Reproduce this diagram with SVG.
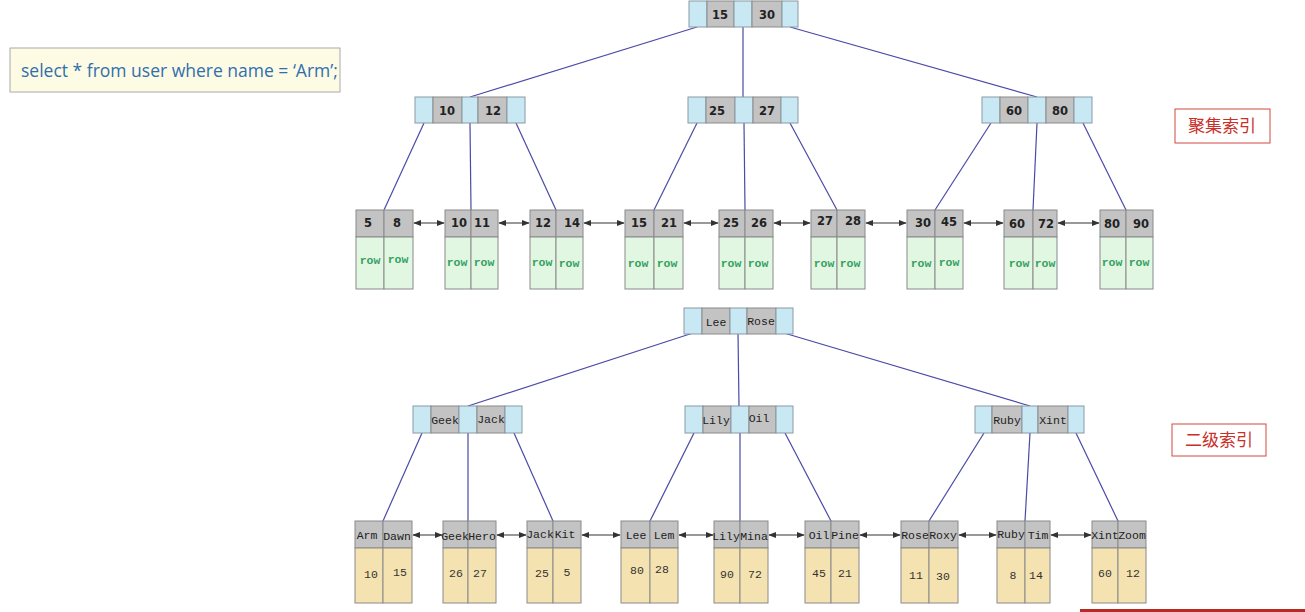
<svg xmlns="http://www.w3.org/2000/svg" width="1305" height="612" viewBox="0 0 1305 612">
<style>
.bl{fill:#c8e8f4;stroke:#8a9aa4;stroke-width:1}
.gr{fill:#c3c3c3;stroke:#8a8a8a;stroke-width:1}
.gn{fill:#e2f7e2;stroke:#8a8a8a;stroke-width:1}
.ye{fill:#f4e2b0;stroke:#8a8a8a;stroke-width:1}
.num{font-family:"DejaVu Sans",sans-serif;font-weight:bold;font-size:11.5px;fill:#222;text-anchor:middle}
.nm{font-family:"Liberation Mono","DejaVu Sans Mono",monospace;font-size:11.5px;fill:#222;text-anchor:middle}
.row{font-family:"Liberation Mono",monospace;font-weight:bold;font-size:11.5px;fill:#35a060;text-anchor:middle}
.val{font-family:"Liberation Mono",monospace;font-size:11.5px;fill:#333;text-anchor:middle}
.ln{stroke:#4a4aa8;stroke-width:1.2;fill:none}
.ar{stroke:#333;stroke-width:1;fill:none;marker-start:url(#ah);marker-end:url(#ah)}
.lab{fill:#fff;stroke:#d0483c;stroke-width:1}
.labt{font-family:"Noto Sans CJK SC",sans-serif;font-size:17px;fill:#c8302a;text-anchor:middle}
</style>
<defs>
<marker id="ah" viewBox="0 0 10 10" refX="9" refY="5" markerWidth="8" markerHeight="8" orient="auto-start-reverse" markerUnits="userSpaceOnUse"><path d="M0,1 L10,5 L0,9 z" fill="#333"/></marker>
</defs>

<g id="query">
<rect x="10" y="48" width="330" height="44" fill="#fdfbe3" stroke="#aaa"/>
<text x="21" y="77" font-family="'Open Sans',sans-serif" font-size="17.5" fill="#2f6fae">select * from user where name = ‘Arm’;</text>
</g>

<g id="connectors">
<line class="ln" x1="697" y1="27" x2="470" y2="97"/>
<line class="ln" x1="743" y1="27" x2="743" y2="97"/>
<line class="ln" x1="790" y1="27" x2="1037" y2="97"/>
<line class="ln" x1="424" y1="123" x2="384" y2="210"/>
<line class="ln" x1="470" y1="123" x2="471" y2="210"/>
<line class="ln" x1="516" y1="123" x2="556" y2="210"/>
<line class="ln" x1="697" y1="123" x2="654" y2="210"/>
<line class="ln" x1="744" y1="123" x2="745" y2="210"/>
<line class="ln" x1="790" y1="123" x2="837" y2="210"/>
<line class="ln" x1="991" y1="123" x2="935" y2="210"/>
<line class="ln" x1="1037" y1="123" x2="1033" y2="210"/>
<line class="ln" x1="1083" y1="123" x2="1126" y2="210"/>
<line class="ar" x1="414" y1="223" x2="444" y2="223"/>
<line class="ar" x1="499" y1="223" x2="529" y2="223"/>
<line class="ar" x1="584" y1="223" x2="624" y2="223"/>
<line class="ar" x1="684" y1="223" x2="718" y2="223"/>
<line class="ar" x1="774" y1="223" x2="810" y2="223"/>
<line class="ar" x1="866" y1="223" x2="906" y2="223"/>
<line class="ar" x1="964" y1="223" x2="1003" y2="223"/>
<line class="ar" x1="1058" y1="223" x2="1099" y2="223"/>

<line class="ln" x1="693" y1="333" x2="468" y2="406"/>
<line class="ln" x1="738" y1="333" x2="739" y2="406"/>
<line class="ln" x1="784" y1="333" x2="1030" y2="406"/>
<line class="ln" x1="422" y1="433" x2="383" y2="521"/>
<line class="ln" x1="468" y1="433" x2="468" y2="521"/>
<line class="ln" x1="514" y1="433" x2="553" y2="521"/>
<line class="ln" x1="694" y1="433" x2="650" y2="521"/>
<line class="ln" x1="740" y1="433" x2="740" y2="521"/>
<line class="ln" x1="785" y1="433" x2="831" y2="521"/>
<line class="ln" x1="984" y1="433" x2="929" y2="521"/>
<line class="ln" x1="1030" y1="433" x2="1025" y2="521"/>
<line class="ln" x1="1076" y1="433" x2="1118" y2="521"/>
<line class="ar" x1="413" y1="535" x2="442" y2="535"/>
<line class="ar" x1="497" y1="535" x2="526" y2="535"/>
<line class="ar" x1="582" y1="535" x2="620" y2="535"/>
<line class="ar" x1="679" y1="535" x2="713" y2="535"/>
<line class="ar" x1="769" y1="535" x2="804" y2="535"/>
<line class="ar" x1="860" y1="535" x2="900" y2="535"/>
<line class="ar" x1="959" y1="535" x2="996" y2="535"/>
<line class="ar" x1="1051" y1="535" x2="1091" y2="535"/>
</g>

<!-- clustered index internal nodes -->
<g id="c-root">
<rect class="bl" x="689" y="1" width="18" height="26"/><rect class="gr" x="707" y="1" width="27" height="26"/><rect class="bl" x="734" y="1" width="18" height="26"/><rect class="gr" x="752" y="1" width="30" height="26"/><rect class="bl" x="782" y="1" width="16" height="26"/>
<text class="num" x="720" y="19">15</text><text class="num" x="767" y="19">30</text>
</g>
<g id="c-n1">
<rect class="bl" x="415" y="97" width="18" height="26"/><rect class="gr" x="433" y="97" width="29" height="26"/><rect class="bl" x="462" y="97" width="16" height="26"/><rect class="gr" x="478" y="97" width="29" height="26"/><rect class="bl" x="507" y="97" width="18" height="26"/>
<text class="num" x="447" y="115">10</text><text class="num" x="493" y="115">12</text>
</g>
<g id="c-n2">
<rect class="bl" x="688" y="97" width="18" height="26"/><rect class="gr" x="706" y="97" width="29" height="26"/><rect class="bl" x="735" y="97" width="18" height="26"/><rect class="gr" x="753" y="97" width="28" height="26"/><rect class="bl" x="781" y="97" width="17" height="26"/>
<text class="num" x="717" y="115">25</text><text class="num" x="767" y="115">27</text>
</g>
<g id="c-n3">
<rect class="bl" x="982" y="97" width="18" height="26"/><rect class="gr" x="1000" y="97" width="28" height="26"/><rect class="bl" x="1028" y="97" width="18" height="26"/><rect class="gr" x="1046" y="97" width="28" height="26"/><rect class="bl" x="1074" y="97" width="18" height="26"/>
<text class="num" x="1014" y="115">60</text><text class="num" x="1060" y="115">80</text>
</g>

<!-- clustered leaves -->
<g id="c-l1"><rect class="gr" x="356" y="210" width="28" height="27"/><rect class="gr" x="384" y="210" width="29" height="27"/><rect class="gn" x="356" y="237" width="28" height="52"/><rect class="gn" x="384" y="237" width="29" height="52"/>
<text class="num" x="368" y="227">5</text><text class="num" x="397" y="227">8</text><text class="row" x="370" y="264">row</text><text class="row" x="398" y="263">row</text></g>
<g id="c-l2"><rect class="gr" x="445" y="210" width="26" height="27"/><rect class="gr" x="471" y="210" width="27" height="27"/><rect class="gn" x="445" y="237" width="26" height="52"/><rect class="gn" x="471" y="237" width="27" height="52"/>
<text class="num" x="459" y="227">10</text><text class="num" x="482" y="227">11</text><text class="row" x="457" y="266">row</text><text class="row" x="484" y="266">row</text></g>
<g id="c-l3"><rect class="gr" x="530" y="210" width="26" height="27"/><rect class="gr" x="556" y="210" width="27" height="27"/><rect class="gn" x="530" y="237" width="26" height="52"/><rect class="gn" x="556" y="237" width="27" height="52"/>
<text class="num" x="543" y="227">12</text><text class="num" x="572" y="227">14</text><text class="row" x="542" y="266">row</text><text class="row" x="569" y="267">row</text></g>
<g id="c-l4"><rect class="gr" x="625" y="210" width="29" height="27"/><rect class="gr" x="654" y="210" width="29" height="27"/><rect class="gn" x="625" y="237" width="29" height="52"/><rect class="gn" x="654" y="237" width="29" height="52"/>
<text class="num" x="639" y="227">15</text><text class="num" x="669" y="227">21</text><text class="row" x="638" y="267">row</text><text class="row" x="667" y="267">row</text></g>
<g id="c-l5"><rect class="gr" x="719" y="210" width="26" height="27"/><rect class="gr" x="745" y="210" width="28" height="27"/><rect class="gn" x="719" y="237" width="26" height="52"/><rect class="gn" x="745" y="237" width="28" height="52"/>
<text class="num" x="731" y="227">25</text><text class="num" x="759" y="227">26</text><text class="row" x="731" y="267">row</text><text class="row" x="758" y="267">row</text></g>
<g id="c-l6"><rect class="gr" x="811" y="210" width="26" height="27"/><rect class="gr" x="837" y="210" width="28" height="27"/><rect class="gn" x="811" y="237" width="26" height="52"/><rect class="gn" x="837" y="237" width="28" height="52"/>
<text class="num" x="825" y="225">27</text><text class="num" x="853" y="225">28</text><text class="row" x="824" y="267">row</text><text class="row" x="850" y="267">row</text></g>
<g id="c-l7"><rect class="gr" x="907" y="210" width="28" height="27"/><rect class="gr" x="935" y="210" width="28" height="27"/><rect class="gn" x="907" y="237" width="28" height="52"/><rect class="gn" x="935" y="237" width="28" height="52"/>
<text class="num" x="923" y="227">30</text><text class="num" x="949" y="226">45</text><text class="row" x="921" y="267">row</text><text class="row" x="949" y="266">row</text></g>
<g id="c-l8"><rect class="gr" x="1004" y="210" width="29" height="27"/><rect class="gr" x="1033" y="210" width="24" height="27"/><rect class="gn" x="1004" y="237" width="29" height="52"/><rect class="gn" x="1033" y="237" width="24" height="52"/>
<text class="num" x="1017" y="228">60</text><text class="num" x="1046" y="228">72</text><text class="row" x="1019" y="267">row</text><text class="row" x="1045" y="267">row</text></g>
<g id="c-l9"><rect class="gr" x="1100" y="210" width="26" height="27"/><rect class="gr" x="1126" y="210" width="27" height="27"/><rect class="gn" x="1100" y="237" width="26" height="52"/><rect class="gn" x="1126" y="237" width="27" height="52"/>
<text class="num" x="1112" y="228">80</text><text class="num" x="1141" y="228">90</text><text class="row" x="1112" y="266">row</text><text class="row" x="1139" y="266">row</text></g>

<g id="label-clustered"><rect class="lab" x="1175" y="109" width="95" height="34"/><text class="labt" x="1222" y="132">聚集索引</text></g>

<!-- secondary index internal nodes -->
<g id="s-root">
<rect class="bl" x="684" y="308" width="18" height="26"/><rect class="gr" x="702" y="308" width="28" height="26"/><rect class="bl" x="730" y="308" width="17" height="26"/><rect class="gr" x="747" y="308" width="29" height="26"/><rect class="bl" x="776" y="308" width="17" height="26"/>
<text class="nm" x="716" y="326">Lee</text><text class="nm" x="761" y="325">Rose</text>
</g>
<g id="s-n1">
<rect class="bl" x="413" y="406" width="18" height="27"/><rect class="gr" x="431" y="406" width="28" height="27"/><rect class="bl" x="459" y="406" width="18" height="27"/><rect class="gr" x="477" y="406" width="28" height="27"/><rect class="bl" x="505" y="406" width="17" height="27"/>
<text class="nm" x="445" y="424">Geek</text><text class="nm" x="491" y="423">Jack</text>
</g>
<g id="s-n2">
<rect class="bl" x="685" y="406" width="18" height="27"/><rect class="gr" x="703" y="406" width="28" height="27"/><rect class="bl" x="731" y="406" width="18" height="27"/><rect class="gr" x="749" y="406" width="27" height="27"/><rect class="bl" x="776" y="406" width="17" height="27"/>
<text class="nm" x="716" y="424">Lily</text><text class="nm" x="759" y="422">Oil</text>
</g>
<g id="s-n3">
<rect class="bl" x="975" y="406" width="17" height="27"/><rect class="gr" x="992" y="406" width="30" height="27"/><rect class="bl" x="1022" y="406" width="16" height="27"/><rect class="gr" x="1038" y="406" width="30" height="27"/><rect class="bl" x="1068" y="406" width="16" height="27"/>
<text class="nm" x="1007" y="424">Ruby</text><text class="nm" x="1053" y="424">Xint</text>
</g>

<!-- secondary leaves -->
<g id="s-l1"><rect class="gr" x="355" y="521" width="28" height="27"/><rect class="gr" x="383" y="521" width="29" height="27"/><rect class="ye" x="355" y="548" width="28" height="55"/><rect class="ye" x="383" y="548" width="29" height="55"/>
<text class="nm" x="367" y="539">Arm</text><text class="nm" x="397" y="540">Dawn</text><text class="val" x="371" y="578">10</text><text class="val" x="400" y="576">15</text></g>
<g id="s-l2"><rect class="gr" x="443" y="521" width="25" height="27"/><rect class="gr" x="468" y="521" width="28" height="27"/><rect class="ye" x="443" y="548" width="25" height="55"/><rect class="ye" x="468" y="548" width="28" height="55"/>
<text class="nm" x="455" y="540">Geek</text><text class="nm" x="482" y="540">Hero</text><text class="val" x="456" y="577">26</text><text class="val" x="480" y="577">27</text></g>
<g id="s-l3"><rect class="gr" x="527" y="521" width="26" height="27"/><rect class="gr" x="553" y="521" width="28" height="27"/><rect class="ye" x="527" y="548" width="26" height="55"/><rect class="ye" x="553" y="548" width="28" height="55"/>
<text class="nm" x="540" y="538">Jack</text><text class="nm" x="565" y="538">Kit</text><text class="val" x="542" y="577">25</text><text class="val" x="567" y="576">5</text></g>
<g id="s-l4"><rect class="gr" x="621" y="521" width="29" height="27"/><rect class="gr" x="650" y="521" width="28" height="27"/><rect class="ye" x="621" y="548" width="29" height="55"/><rect class="ye" x="650" y="548" width="28" height="55"/>
<text class="nm" x="636" y="539">Lee</text><text class="nm" x="664" y="539">Lem</text><text class="val" x="637" y="574">80</text><text class="val" x="662" y="573">28</text></g>
<g id="s-l5"><rect class="gr" x="714" y="521" width="26" height="27"/><rect class="gr" x="740" y="521" width="28" height="27"/><rect class="ye" x="714" y="548" width="26" height="55"/><rect class="ye" x="740" y="548" width="28" height="55"/>
<text class="nm" x="726" y="540">Lily</text><text class="nm" x="754" y="540">Mina</text><text class="val" x="727" y="578">90</text><text class="val" x="755" y="578">72</text></g>
<g id="s-l6"><rect class="gr" x="805" y="521" width="26" height="27"/><rect class="gr" x="831" y="521" width="28" height="27"/><rect class="ye" x="805" y="548" width="26" height="55"/><rect class="ye" x="831" y="548" width="28" height="55"/>
<text class="nm" x="819" y="539">Oil</text><text class="nm" x="845" y="539">Pine</text><text class="val" x="819" y="577">45</text><text class="val" x="845" y="577">21</text></g>
<g id="s-l7"><rect class="gr" x="901" y="521" width="28" height="27"/><rect class="gr" x="929" y="521" width="29" height="27"/><rect class="ye" x="901" y="548" width="28" height="55"/><rect class="ye" x="929" y="548" width="29" height="55"/>
<text class="nm" x="915" y="539">Rose</text><text class="nm" x="943" y="539">Roxy</text><text class="val" x="916" y="579">11</text><text class="val" x="943" y="580">30</text></g>
<g id="s-l8"><rect class="gr" x="997" y="521" width="28" height="27"/><rect class="gr" x="1025" y="521" width="25" height="27"/><rect class="ye" x="997" y="548" width="28" height="55"/><rect class="ye" x="1025" y="548" width="25" height="55"/>
<text class="nm" x="1011" y="538">Ruby</text><text class="nm" x="1038" y="539">Tim</text><text class="val" x="1013" y="579">8</text><text class="val" x="1036" y="579">14</text></g>
<g id="s-l9"><rect class="gr" x="1092" y="521" width="26" height="27"/><rect class="gr" x="1118" y="521" width="28" height="27"/><rect class="ye" x="1092" y="548" width="26" height="55"/><rect class="ye" x="1118" y="548" width="28" height="55"/>
<text class="nm" x="1105" y="539">Xint</text><text class="nm" x="1132" y="539">Zoom</text><text class="val" x="1105" y="577">60</text><text class="val" x="1133" y="577">12</text></g>

<g id="label-secondary"><rect class="lab" x="1172" y="424" width="94" height="32"/><text class="labt" x="1219" y="446">二级索引</text></g>

<rect x="1080" y="609" width="225" height="3" fill="#b82a22"/>
</svg>
